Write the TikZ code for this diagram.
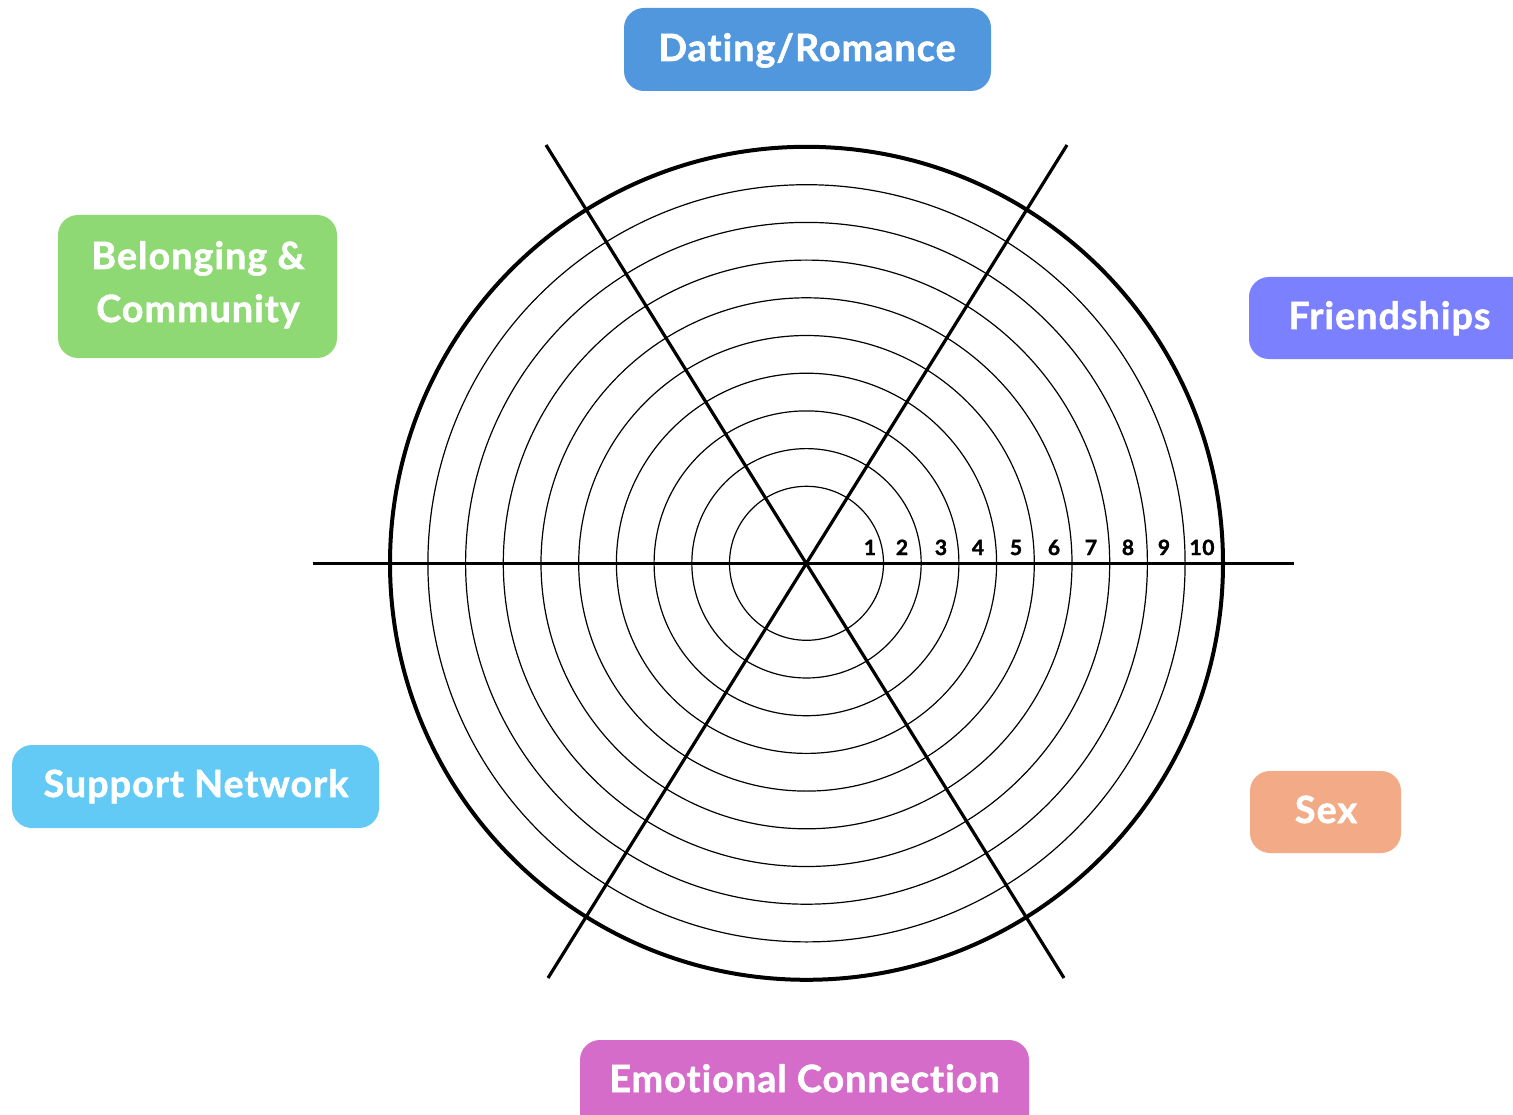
\documentclass[tikz,border=0pt]{standalone}
\usepackage{fontspec}
\setmainfont{Lato}[Ligatures=NoCommon,BoldFeatures={FakeBold=1.6,LetterSpace=3}]
\definecolor{cdate}{HTML}{5097DD}
\definecolor{cfriend}{HTML}{7B80FF}
\definecolor{cbelong}{HTML}{8FD974}
\definecolor{csupport}{HTML}{62CAF4}
\definecolor{csex}{HTML}{F2AB86}
\definecolor{cemo}{HTML}{D56CCA}
\begin{document}
\begin{tikzpicture}[x=1pt,y=-1pt,
  lbl/.style={text=white,font=\fontsize{37.5}{52}\selectfont\bfseries,anchor=base,inner sep=0pt},
  box/.style={rounded corners=20pt},
  spoke/.style={line width=3.2pt},
  ring/.style={line width=1.2pt},
  num/.style={font=\fontsize{21}{22}\selectfont\bfseries,anchor=base,inner sep=0pt}]
\useasboundingbox (0,0) rectangle (1513,1115);
\fill[white] (0,0) rectangle (1513,1115);
% boxes
\fill[cdate,box] (624,8) rectangle (991,91);
\fill[cfriend,box] (1249,277) rectangle (1560,359);
\fill[cbelong,box] (58,215) rectangle (337,358);
\fill[csupport,box] (12,745) rectangle (379,828);
\fill[csex,box] (1250,771) rectangle (1401,853);
\fill[cemo,box] (580,1040) rectangle (1029,1160);
\node[lbl] (tdate) at (807,61) {Dating/Romance};
\node[lbl] (tfriend) at (1389.5,329) {Friendships};
\node[lbl] (tbelong1) at (198,269) {Belonging \&};
\node[lbl] (tbelong2) at (198,322) {Community};
\node[lbl] (tsupport) at (196,797) {Support Network};
\node[lbl] (tsex) at (1326,823) {Sex};
\node[lbl] (temo) at (804.5,1092) {Emotional Connection};
% wheel
\coordinate (c) at (806.5,563.3);
\foreach \k in {1,...,9} {
  \draw[ring] (c) circle ({77+37.7*(\k-1)});
}
\draw[line width=4pt] (c) circle (416.5);
\coordinate (h1) at (313,563.3);
\coordinate (h2) at (1294,563.3);
\coordinate (d1) at (546,145);
\coordinate (d2) at (1064,978);
\coordinate (e1) at (1067,145);
\coordinate (e2) at (548,978);
\draw[spoke] (h1) -- (h2);
\draw[spoke] (d1) -- (d2);
\draw[spoke] (e1) -- (e2);
% numbers
\node[num] (n1) at (870,555) {1};
\node[num] (n2) at (902,555) {2};
\node[num] (n3) at (941,555) {3};
\node[num] (n4) at (978,555) {4};
\node[num] (n5) at (1016,555) {5};
\node[num] (n6) at (1054,555) {6};
\node[num] (n7) at (1091,555) {7};
\node[num] (n8) at (1128,555) {8};
\node[num] (n9) at (1164,555) {9};
\node[num] (n10) at (1202,555) {10};
\end{tikzpicture}
\end{document}
